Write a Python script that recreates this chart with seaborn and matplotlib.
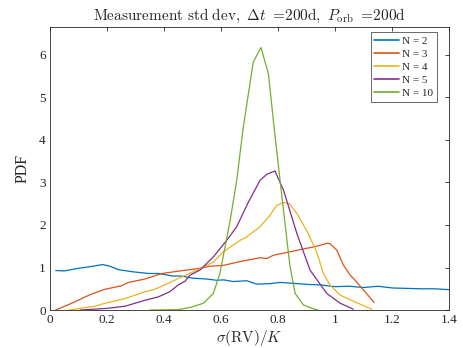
import numpy as np
import pandas as pd
import matplotlib
matplotlib.use("Agg")
import matplotlib.pyplot as plt
import seaborn as sns

labels = ["N = 2", "N = 3", "N = 4", "N = 5", "N = 10"]
colors = ["#0072BD", "#D95319", "#EDB120", "#7E2F8E", "#77AC30"]

x_n2 = [0.02, 0.05, 0.09, 0.12, 0.15, 0.185, 0.21, 0.24, 0.29, 0.345, 0.38, 0.43, 0.46, 0.50, 0.55,
        0.585, 0.61, 0.643, 0.69, 0.725, 0.77, 0.807, 0.85, 0.912, 0.95, 1.0, 1.05, 1.1, 1.15, 1.2,
        1.25, 1.3, 1.35, 1.4]
y_n2 = [0.93, 0.92, 0.97, 1.00, 1.03, 1.07, 1.03, 0.95, 0.90, 0.86, 0.86, 0.80, 0.80, 0.75, 0.73,
        0.70, 0.71, 0.67, 0.69, 0.61, 0.62, 0.65, 0.63, 0.60, 0.59, 0.55, 0.56, 0.53, 0.56, 0.52,
        0.51, 0.50, 0.50, 0.48]

x_n3 = [0.02, 0.076, 0.111, 0.14, 0.193, 0.251, 0.275, 0.333, 0.392, 0.468, 0.526, 0.56, 0.608,
        0.667, 0.737, 0.76, 0.784, 0.842, 0.877, 0.936, 0.971, 0.982, 1.006, 1.029, 1.053, 1.07,
        1.1, 1.137]
y_n3 = [0.0, 0.16, 0.27, 0.36, 0.49, 0.57, 0.65, 0.73, 0.86, 0.93, 0.98, 1.03, 1.05,
        1.14, 1.23, 1.21, 1.29, 1.37, 1.42, 1.50, 1.57, 1.56, 1.41, 1.06, 0.82, 0.70,
        0.47, 0.18]

x_n4 = [0.064, 0.158, 0.193, 0.263, 0.333, 0.368, 0.415, 0.468, 0.526, 0.573, 0.608, 0.667,
        0.69, 0.737, 0.772, 0.795, 0.819, 0.84, 0.866, 0.906, 0.936, 0.959, 0.982, 1.018, 1.07,
        1.129]
y_n4 = [0.0, 0.09, 0.16, 0.27, 0.43, 0.49, 0.63, 0.80, 0.97, 1.13, 1.37, 1.64,
        1.72, 1.96, 2.23, 2.46, 2.53, 2.50, 2.27, 1.80, 1.35, 0.86, 0.59, 0.35, 0.19,
        0.02]

x_n5 = [0.105, 0.2, 0.263, 0.333, 0.38, 0.42, 0.45, 0.474, 0.491, 0.526, 0.573, 0.62, 0.655,
        0.696, 0.737, 0.76, 0.789, 0.819, 0.866, 0.912, 0.971, 1.018, 1.064]
y_n5 = [0.0, 0.04, 0.09, 0.23, 0.31, 0.43, 0.59, 0.68, 0.82, 0.94, 1.25, 1.64, 1.96,
        2.54, 3.05, 3.19, 3.27, 2.82, 1.80, 0.94, 0.39, 0.16, 0.02]

x_n10 = [0.35, 0.45, 0.491, 0.538, 0.573, 0.596, 0.632, 0.655, 0.678, 0.713, 0.74, 0.766, 0.786,
         0.807, 0.825, 0.842, 0.86, 0.889, 0.924, 0.94]
y_n10 = [0.0, 0.01, 0.06, 0.16, 0.39, 0.86, 2.11, 3.05, 4.30, 5.83, 6.17, 5.56, 4.30,
         3.05, 2.00, 1.02, 0.39, 0.12, 0.03, 0.0]

xticks = [0, 0.2, 0.4, 0.6, 0.8, 1.0, 1.2, 1.4]
xticklabels = ["0", "0.2", "0.4", "0.6", "0.8", "1", "1.2", "1.4"]
yticks = [0, 1, 2, 3, 4, 5, 6]

frames = []
for lab, xs, ys in zip(labels, [x_n2, x_n3, x_n4, x_n5, x_n10], [y_n2, y_n3, y_n4, y_n5, y_n10]):
    frames.append(pd.DataFrame({"x": xs, "y": ys, "N": lab}))
df = pd.concat(frames, ignore_index=True)

sns.set_style("white")
plt.rcParams["font.family"] = ["Liberation Serif", "DejaVu Serif"]
plt.rcParams["mathtext.fontset"] = "cm"

fig = plt.figure(figsize=(4.63, 3.48), dpi=100)
ax = fig.add_axes([0.108, 0.109, 0.862, 0.813])

sns.lineplot(data=df, x="x", y="y", hue="N", hue_order=labels, palette=colors,
             sort=False, estimator=None, linewidth=0.9, ax=ax)

ax.set_xlim(0, 1.4)
ax.set_ylim(0, 6.65)
ax.set_xticks(xticks)
ax.set_xticklabels(xticklabels)
ax.set_yticks(yticks)
ax.tick_params(direction="in", top=True, right=True, length=3, width=0.6,
               labelsize=9.5, colors="#262626", pad=3)
for s in ax.spines.values():
    s.set_color("#262626")
    s.set_linewidth(0.6)

ax.set_title(r"$\mathrm{Measurement\ std\ dev,}\ \Delta t\ \mathrm{=}\!\mathrm{200d,}\ P_{\rm orb}\ \mathrm{=}\!\mathrm{200d}$",
             fontsize=11, pad=5)
ax.set_xlabel(r"$\sigma(\mathrm{RV})/K$", fontsize=11, labelpad=1)
ax.set_ylabel("PDF", fontsize=11.5, labelpad=6)

leg = ax.legend(loc="upper right", bbox_to_anchor=(0.97, 0.982), fontsize=8, frameon=True,
                fancybox=False, handlelength=2.2, borderpad=0.35, labelspacing=0.3,
                handletextpad=0.3, borderaxespad=0.0)
leg.get_frame().set_edgecolor("#262626")
leg.get_frame().set_linewidth(0.6)
for l in leg.get_lines():
    l.set_linewidth(1.2)

fig.savefig("out.png", dpi=100)
